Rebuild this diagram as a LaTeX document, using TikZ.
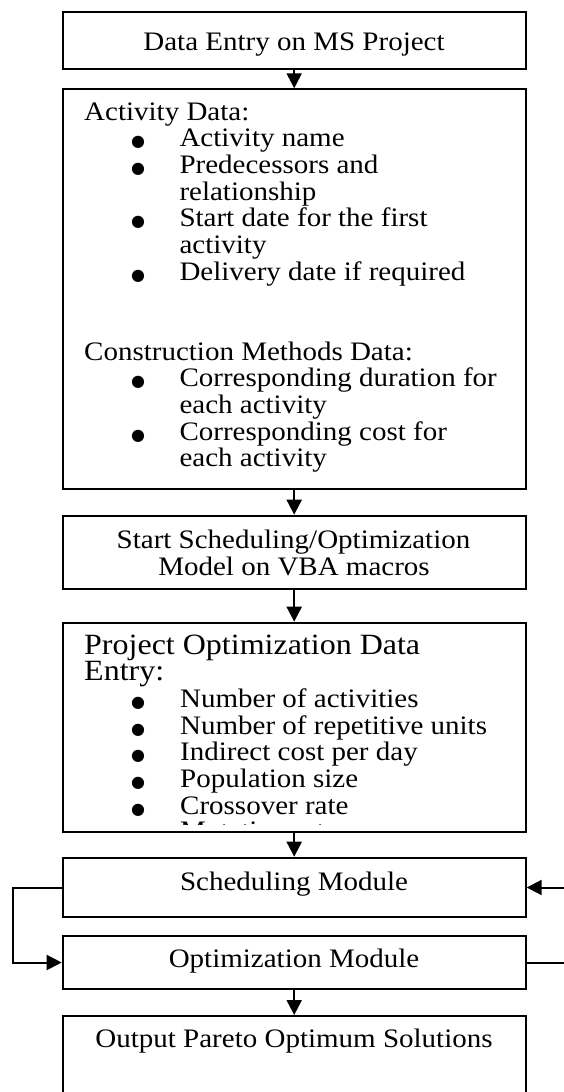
\documentclass[tikz,border=0pt]{standalone}
\usepackage{fontspec}
\setmainfont{Liberation Serif}
\newfontfamily\symfont{DejaVu Sans}
\usepackage{graphicx}
\usetikzlibrary{arrows.meta}

% text is set slightly condensed vertically
\newcommand\squeezed[1]{\scalebox{1}[0.92]{#1}}

\begin{document}
\begin{tikzpicture}[x=1pt,y=-1pt,
  box/.style={draw, line width=2pt, inner sep=0pt, minimum width=463pt},
  arr/.style={line width=2pt, -{Triangle[length=15pt,width=15pt]}},
  txt/.style={inner sep=0pt, anchor=base west, font=\fontsize{29}{29}\selectfont},
  ctr/.style={inner sep=0pt, anchor=base, font=\fontsize{29}{29}\selectfont},
  head/.style={inner sep=0pt, anchor=base west, font=\fontsize{32}{32}\selectfont},
  dot/.style={inner sep=0pt, anchor=base, font=\symfont\fontsize{16}{16}\selectfont},
]
\useasboundingbox (0,0) rectangle (564,1092);
\clip (0,0) rectangle (564,1092);

% boxes
\node[box, minimum height=57.6pt]  (b1) at (294.2,40.5)   {};
\node[box, minimum height=399.7pt] (b2) at (294.2,289.15) {};
\node[box, minimum height=73.6pt]  (b3) at (294.2,552.5)  {};
\node[box, minimum height=209pt]   (b4) at (294.2,727.2)  {};
\node[box, minimum height=59.6pt]  (b5) at (294.2,887.5)  {};
\node[box, minimum height=53.6pt]  (b6) at (294.2,962.5)  {};
\node[box, minimum height=94pt]    (b7) at (294.2,1063)   {};

% box 1
\node[ctr] (t1) at (294,50) {\squeezed{Data Entry on MS Project}};

% box 2
\node[txt] (h2a) at (84,120) {\squeezed{Activity Data:}};
\foreach \y/\s [count=\i] in {146.7/Activity name, 173.3/Predecessors and,
    200/relationship, 226.7/Start date for the first, 253.3/activity,
    280/Delivery date if required, 386.7/Corresponding duration for,
    413.3/each activity, 440/Corresponding cost for, 466.7/each activity}
  \node[txt] (l2-\i) at (179.3,\y) {\squeezed{\s}};
\node[txt] (h2b) at (84,360) {\squeezed{Construction Methods Data:}};
\foreach \y [count=\i] in {146.7,173.3,226.7,280,386.7,440}
  \node[dot] (d2-\i) at (138,\y) {●};

% box 3
\node[ctr] (t3a) at (293.5,548.3) {\squeezed{Start Scheduling/Optimization}};
\node[ctr] (t3b) at (294,575) {\squeezed{Model on VBA macros}};

% box 4
\node[head] (h4a) at (84,654) {\squeezed{Project Optimization Data}};
\node[head] (h4b) at (84,680.7) {\squeezed{Entry:}};
\foreach \y/\s [count=\i] in {707.3/Number of activities,
    734/Number of repetitive units, 760.7/Indirect cost per day,
    787.3/Population size, 814/Crossover rate} {
  \node[txt] (l4-\i) at (180,\y) {\squeezed{\s}};
  \node[dot] (d4-\i) at (138,\y) {●};
}
% the last list line is cut off by the box's text area
\begin{scope}
  \clip (62.7,622.7) rectangle (525.7,824);
  \node[txt] (l4-6) at (180,839.5) {\squeezed{Mutation rate}};
\end{scope}

% boxes 5--7
\node[ctr] (t5) at (294,890)    {\squeezed{Scheduling Module}};
\node[ctr] (t6) at (294,967.3)  {\squeezed{Optimization Module}};
\node[ctr] (t7) at (294,1047.5) {\squeezed{Output Pareto Optimum Solutions}};

% connectors
\draw[arr] (b1.south) -- (b2.north);
\draw[arr] (b2.south) -- (b3.north);
\draw[arr] (b3.south) -- (b4.north);
\draw[arr] (b4.south) -- (b5.north);
\draw[arr] (b6.south) -- (b7.north);
\draw[arr] (b5.west) -- ++(-48.4,0) |- (b6.west);
\draw[arr] (b6.east) -- ++(48.4,0) |- (b5.east);
\end{tikzpicture}
\end{document}
